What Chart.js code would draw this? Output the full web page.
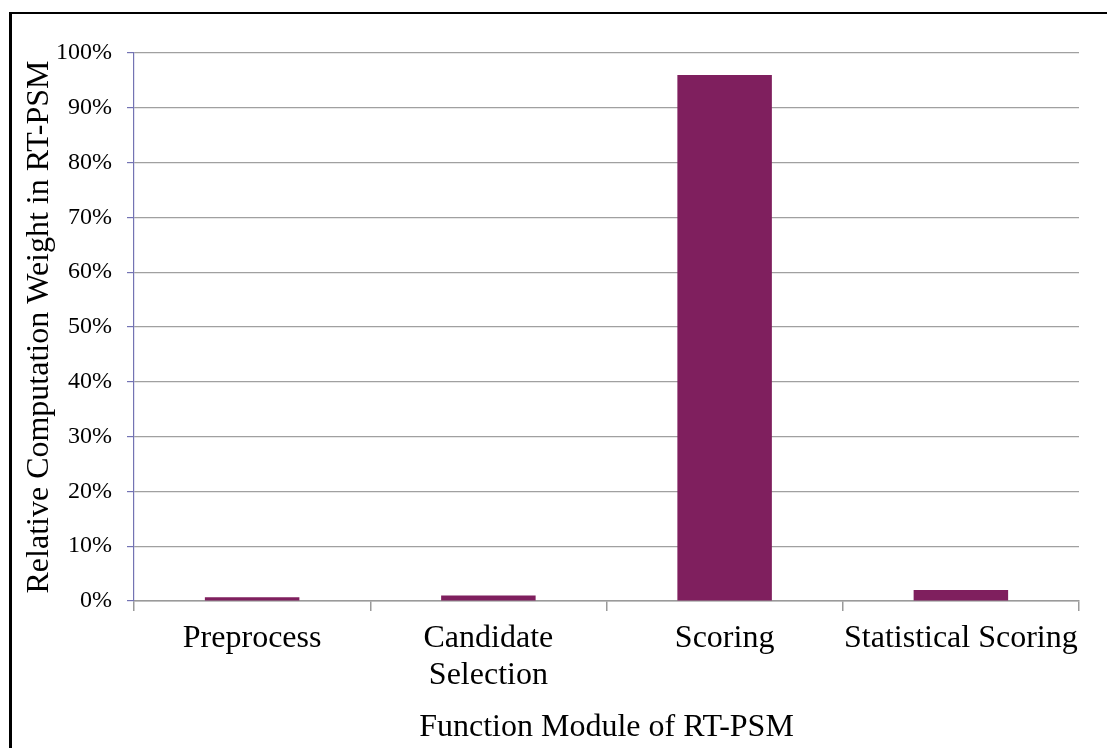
<!DOCTYPE html>
<html>
<head>
<meta charset="utf-8">
<title>Relative Computation Weight in RT-PSM</title>
<script src="https://cdn.jsdelivr.net/npm/chart.js@4.4.0/dist/chart.umd.min.js"></script>
<style>
  html, body { margin: 0; padding: 0; background: #fff; }
  #wrap { position: relative; width: 1107px; height: 748px; overflow: hidden; }
  #frame {
    position: absolute; left: 9px; top: 12px; width: 1200px; height: 800px;
    border-top: 2px solid #000; border-left: 3px solid #000;
    pointer-events: none;
  }
</style>
</head>
<body>
<div id="wrap">
  <canvas id="chart"></canvas>
  <div id="frame"></div>
</div>
<script>
// Module share of total computation time (%)
const modules = ['Preprocess', ['Candidate', 'Selection'], 'Scoring', 'Statistical Scoring'];
const weights = [0.7, 1.0, 96.0, 2.0];
const yTicks = [0, 10, 20, 30, 40, 50, 60, 70, 80, 90, 100];

const serif = 'Liberation Serif, Times New Roman, serif';

new Chart(document.getElementById('chart'), {
    type: 'bar',
    data: {
        labels: modules,
        datasets: [{
            data: weights,
            backgroundColor: '#7F1F5E',
            borderWidth: 0,
            categoryPercentage: 1.0,
            barPercentage: 0.4
        }]
    },
    options: {
        responsive: true,
        maintainAspectRatio: false,
        animation: false,
        devicePixelRatio: 1,
        layout: { padding: { top: 53, right: 28, left: 0, bottom: 0 } },
        plugins: { legend: { display: false }, tooltip: { enabled: false } },
        scales: {
            x: {
                grid: { drawOnChartArea: false, tickLength: 10, color: '#9a9a9a', lineWidth: 1.5 },
                border: { color: '#9a9a9a', width: 1.5 },
                ticks: {
                    color: '#000', padding: 9, maxRotation: 0, autoSkip: false,
                    font: { family: serif, size: 32, lineHeight: 1.16 }
                },
                title: {
                    display: true, text: 'Function Module of RT-PSM', color: '#000',
                    padding: { top: 0, bottom: 1 },
                    font: { family: serif, size: 32, lineHeight: 1.2 }
                },
                afterFit: s => { s.height = 147; }
            },
            y: {
                min: 0, max: 100,
                afterBuildTicks: s => { s.ticks = yTicks.map(v => ({ value: v })); },
                grid: { color: '#a0a0a0', lineWidth: 1.2, tickLength: 7, tickColor: '#7373b3' },
                border: { color: '#7373b3', width: 1.2 },
                ticks: {
                    color: '#000', padding: 15,
                    font: { family: serif, size: 24 },
                    callback: v => v + '%'
                },
                title: {
                    display: true, text: 'Relative Computation Weight in RT-PSM', color: '#000',
                    padding: { top: 20, bottom: 0 },
                    font: { family: serif, size: 32, lineHeight: 1.2 }
                },
                afterFit: s => { s.width = 134; }
            }
        }
    }
});
</script>
</body>
</html>
